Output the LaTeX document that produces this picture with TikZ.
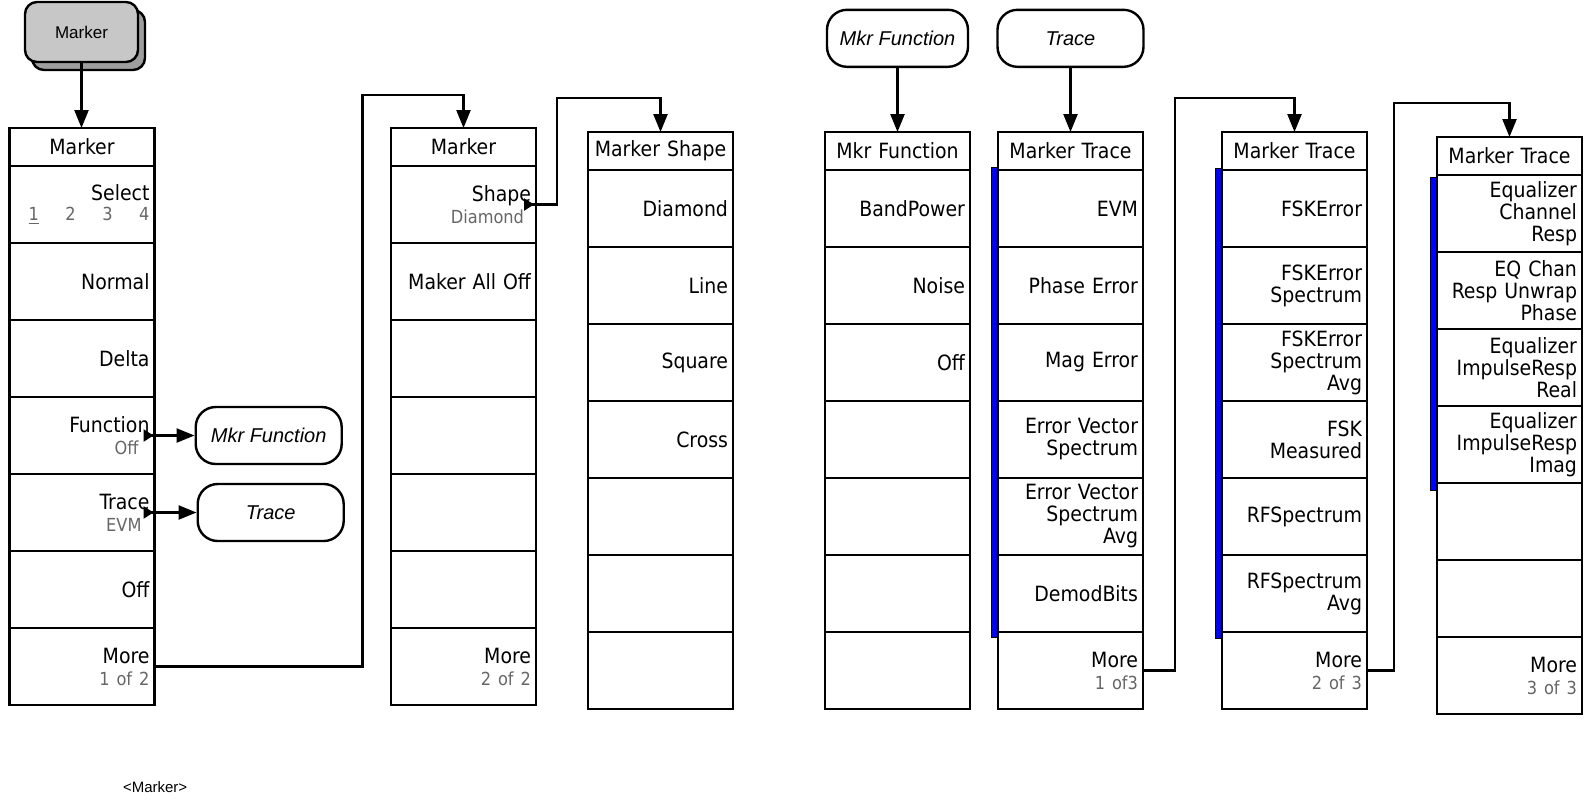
\documentclass[tikz,border=0pt]{standalone}
\usepackage{fontspec}
\usepackage{tikz}
\usetikzlibrary{positioning, arrows.meta}

\newfontfamily\keyfont{DejaVu Sans Condensed}
\newfontfamily\arialfont{Liberation Sans}

\definecolor{subgray}{gray}{0.4}
\definecolor{keyface}{gray}{0.78}
\definecolor{keyshade}{gray}{0.62}

% grey second line of a softkey
\newcommand{\keynote}[1]{{\color{subgray}\fontsize{9}{10}\selectfont #1}}

\tikzset{
    menukey/.style={draw, line width=1.2pt, rectangle, outer sep=0pt, inner ysep=0pt, inner xsep=2.5pt,
        text width=67.5pt, minimum height=38.5pt, align=right, font=\fontsize{10.5}{11}\keyfont},
    menuhead/.style={menukey, minimum height=19pt, align=center},
    softkey/.style={draw, line width=1.2pt, rounded corners=10pt, minimum width=73pt, minimum height=28.5pt,
        font=\fontsize{10}{12}\arialfont\itshape},
    hardkey/.style={draw, line width=1.2pt, rounded corners=6pt, minimum width=56.5pt, minimum height=30pt,
        font=\fontsize{8.5}{10}\arialfont},
    arr/.style={line width=1.2pt, -{Triangle[width=7pt,length=9pt]}},
    linkarr/.style={line width=1.2pt, {Triangle[reversed,width=6pt,length=5pt]}-{Triangle[width=7pt,length=9pt]}}
}

% one menu column: name, north west corner, title, seven keys
\newcommand{\menupanel}[4]{%
    \node[menuhead, anchor=north west] (#1-0) at (#2) {#3};
    \foreach \keylabel [count=\k] in {#4} {
        \pgfmathtruncatemacro\kprev{\k-1}
        \node[menukey, below=0pt of #1-\kprev] (#1-\k) {\keylabel};
    }
}

\begin{document}
\begin{tikzpicture}[x=0.5pt, y=-0.5pt]
    \useasboundingbox (0,0) rectangle (1587,811);

    % front panel key
    \node[hardkey, fill=keyshade] (hkshadow) at (88.5,40) {};
    \node[hardkey, fill=keyface] (hk) at (81.5,32) {Marker};

    % menu columns
    \menupanel{p1}{9.5,128}{Marker}{%
        {Select\\\keynote{\hbox to 67.5pt{\hfil\hbox to 60.5pt{\underline{1}\hfil 2\hfil 3\hfil 4}}}},
        {Normal}, {Delta},
        {Function\hspace*{1.5pt}\\\keynote{Off\hspace*{5.5pt}}},
        {Trace\hspace*{6pt}\\\keynote{EVM\hspace*{4pt}}},
        {Off}, {More\\\keynote{1 of 2}}}
    \menupanel{p2}{391,128}{Marker}{%
        {Shape\hspace*{4pt}\\\keynote{Diamond\hspace*{3.5pt}}},
        {Maker All Off}, {}, {}, {}, {}, {More\\\keynote{2 of 2}}}
    \menupanel{p3}{588,132}{Marker Shape}{%
        {Diamond}, {Line}, {Square}, {Cross}, {}, {}, {}}
    \menupanel{p4}{825,132}{Mkr Function}{%
        {BandPower\hspace*{3pt}}, {Noise}, {Off}, {}, {}, {}, {}}
    \menupanel{p5}{998,132}{Marker Trace}{%
        {EVM\hspace*{3.5pt}}, {Phase Error}, {Mag Error},
        {Error Vector\\Spectrum\hspace*{4pt}},
        {Error Vector\\Spectrum\hspace*{4pt}\\Avg\hspace*{2pt}},
        {DemodBits}, {More\\\keynote{1 of3}}}
    \menupanel{p6}{1222,132}{Marker Trace}{%
        {FSKError}, {FSKError\\Spectrum\hspace*{5pt}},
        {FSKError\\Spectrum\hspace*{5pt}\\Avg},
        {FSK\hspace*{3pt}\\Measured\hspace*{3pt}},
        {RFSpectrum\hspace*{5pt}}, {RFSpectrum\hspace*{5pt}\\Avg},
        {More\\\keynote{2 of 3}}}
    \menupanel{p7}{1437,137}{Marker Trace}{%
        {Equalizer\\Channel\\Resp}, {EQ Chan\\Resp Unwrap\hspace*{2pt}\\Phase},
        {Equalizer\\ImpulseResp\\Real}, {Equalizer\\ImpulseResp\\Imag},
        {}, {}, {More\\\keynote{3 of 3}}}

    % blue bars beside the trace keys
    \filldraw[fill=blue, draw=black, line width=0.5pt]
        ([xshift=-3.5pt, yshift=1.5pt]p5-1.north west) rectangle ([xshift=-0.5pt, yshift=-2.5pt]p5-6.south west);
    \filldraw[fill=blue, draw=black, line width=0.5pt]
        ([xshift=-3.5pt, yshift=1pt]p6-1.north west) rectangle ([xshift=-0.5pt, yshift=-3pt]p6-6.south west);
    \filldraw[fill=blue, draw=black, line width=0.5pt]
        ([xshift=-3.5pt, yshift=-1pt]p7-1.north west) rectangle ([xshift=-0.5pt, yshift=-3.5pt]p7-4.south west);

    % softkey menu names
    \node[softkey, right=20pt of p1-4] (mkr1) {Mkr Function};
    \node[softkey, right=21pt of p1-5] (trc1) {Trace};
    \node[softkey, minimum width=70.5pt, above=32pt of p4-0] (mkr2) {Mkr Function};
    \node[softkey, above=32pt of p5-0] (trc2) {Trace};

    % connectors
    \draw[arr] (hk.south) -- (hk.south |- p1-0.north);
    \draw[linkarr] ([xshift=-5.5pt]p1-4.east) -- (mkr1);
    \draw[linkarr] ([xshift=-5.5pt]p1-5.east) -- (trc1);
    \draw[arr] (p1-7.east) -- ++(208,0) |- ([yshift=16.5pt]p2-0.north) -- (p2-0.north);
    \draw[linkarr] ([xshift=-6pt]p2-1.east) -- ++(33,0) |- ([yshift=17pt]p3-0.north) -- (p3-0.north);
    \draw[arr] (mkr2) -- (p4-0);
    \draw[arr] (trc2) -- (p5-0);
    \draw[arr] (p5-7.east) -- ++(32,0) |- ([yshift=17pt]p6-0.north) -- (p6-0.north);
    \draw[arr] (p6-7.east) -- ++(27,0) |- ([yshift=17pt]p7-0.north) -- (p7-0.north);

    \node[font=\fontsize{7.5}{9}\arialfont, anchor=west] (caption) at (116,787) {<Marker>};
\end{tikzpicture}
\end{document}
